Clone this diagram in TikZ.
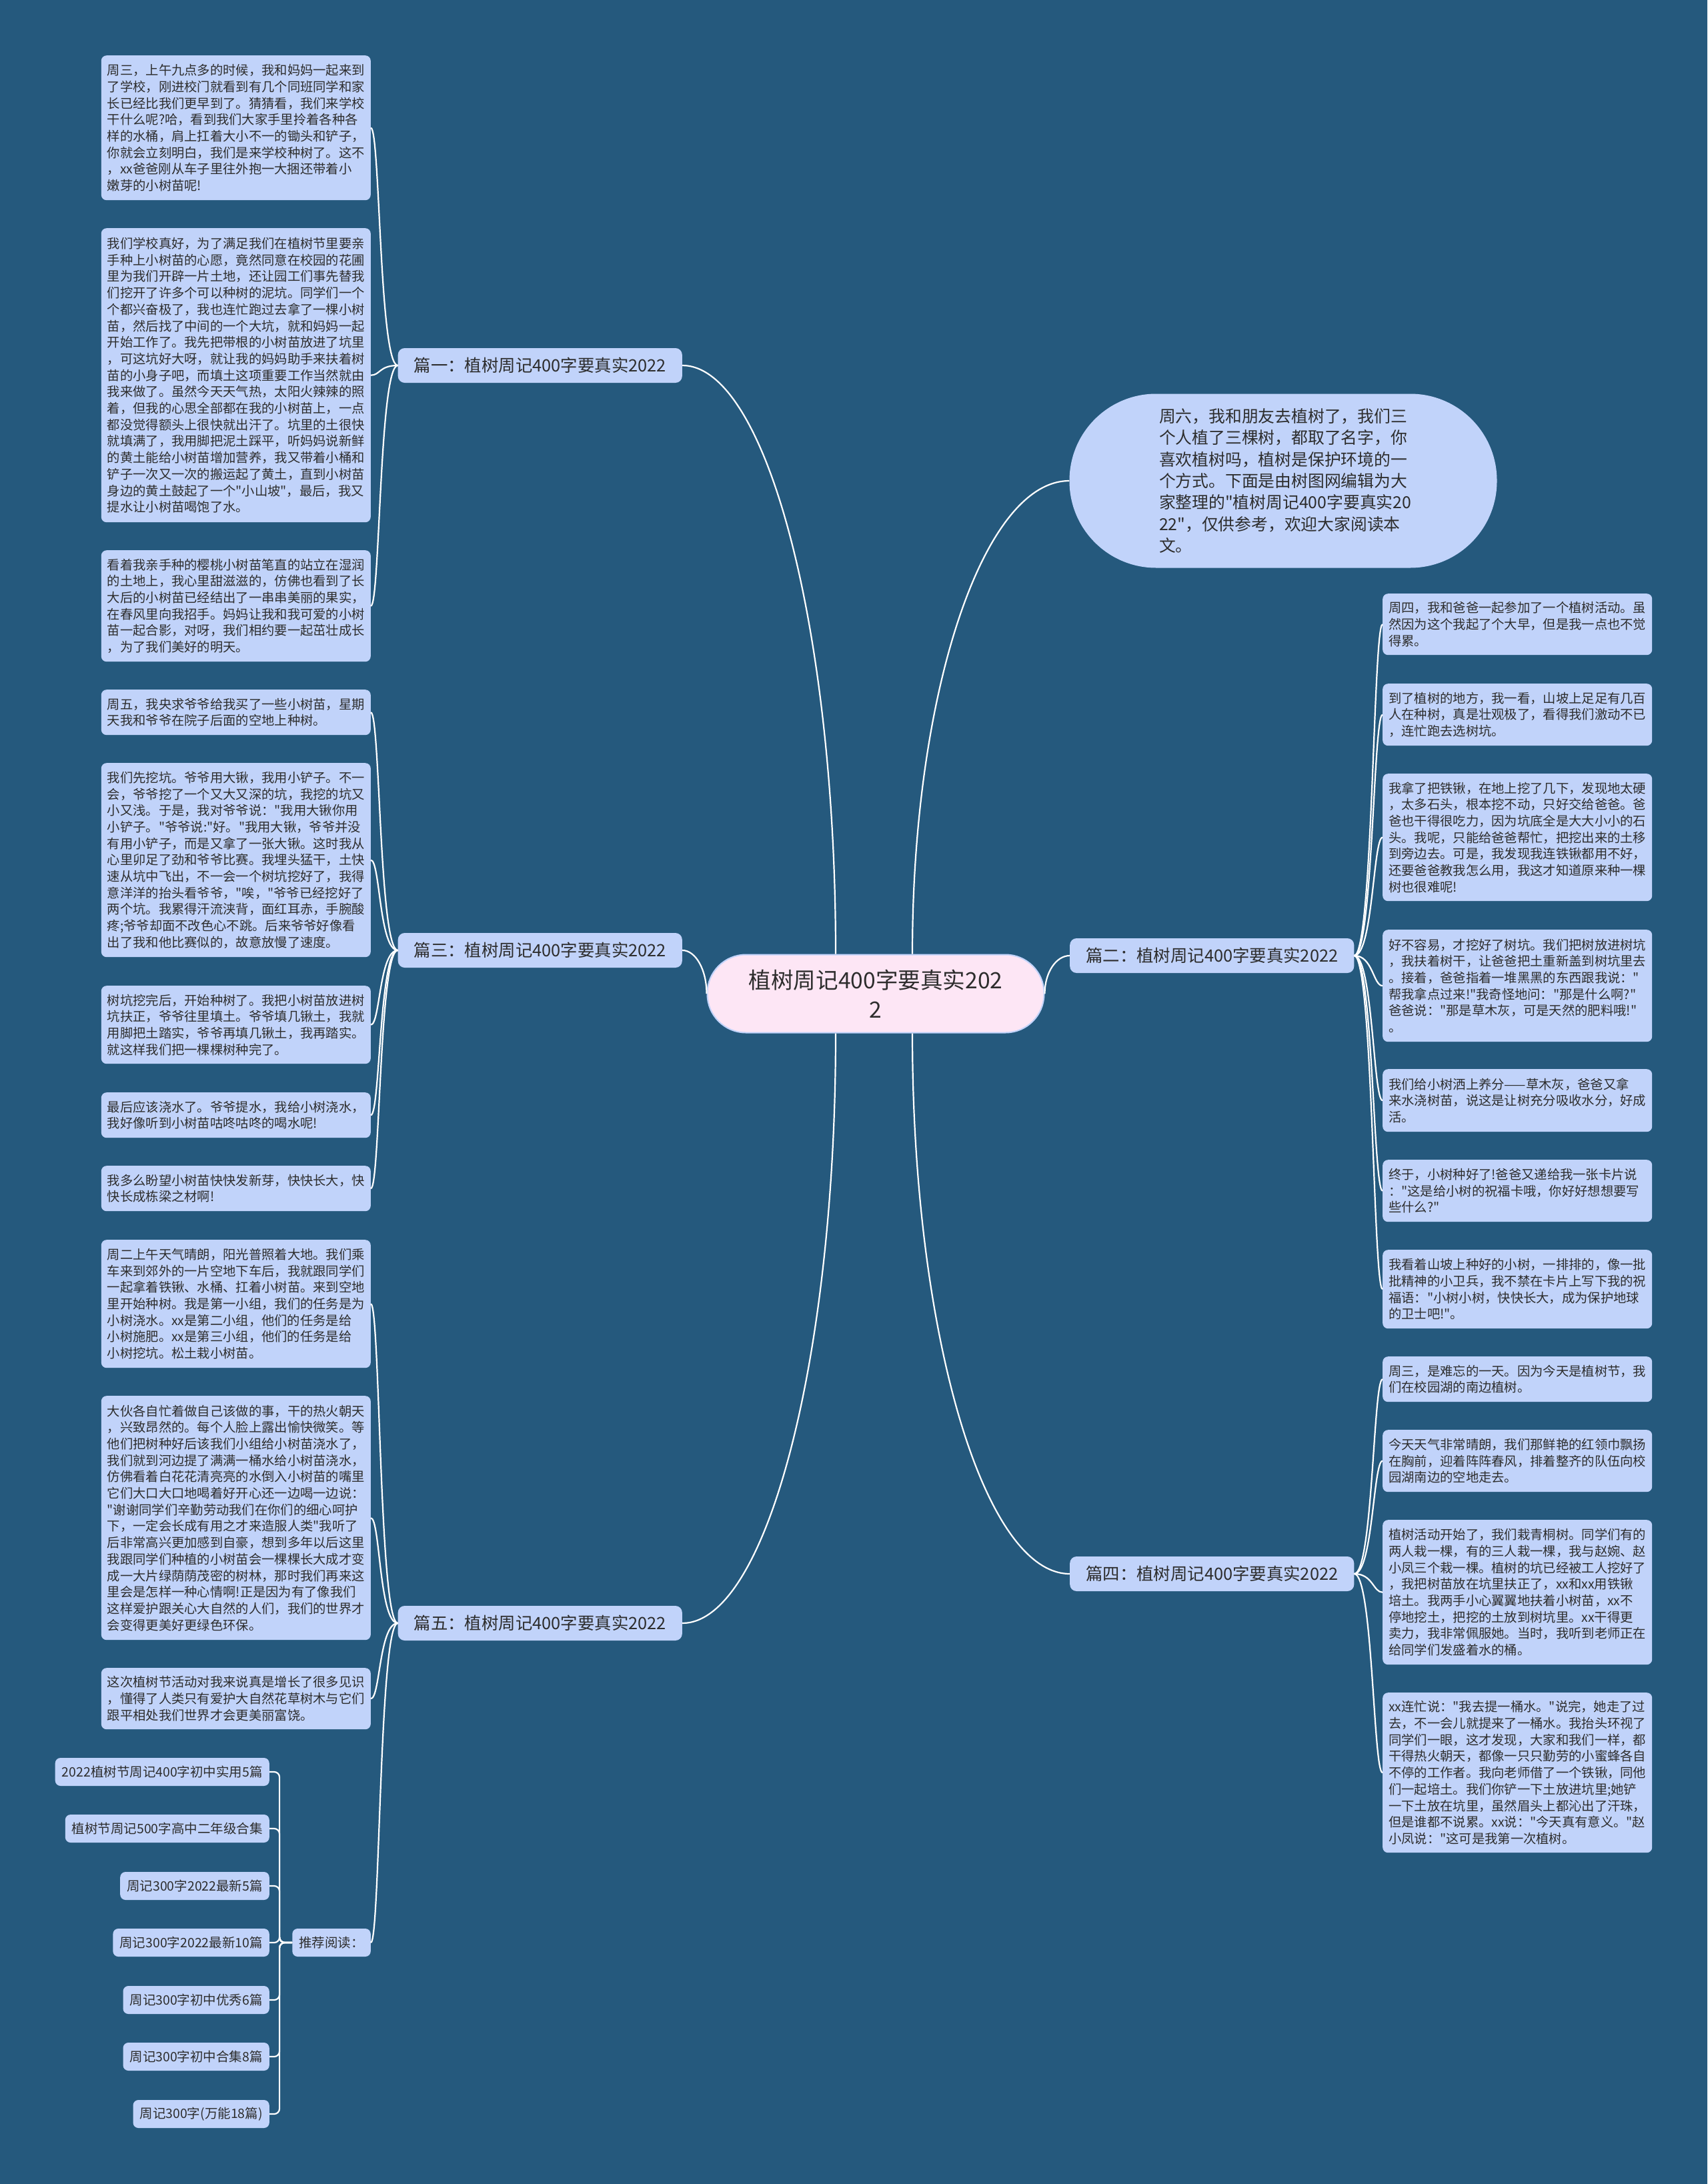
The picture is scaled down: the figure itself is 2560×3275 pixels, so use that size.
\documentclass[tikz,border=0pt]{standalone}
\usepackage{fontspec}
\setmainfont{Noto Sans CJK SC}[Ligatures=TeXOff]
\usetikzlibrary{calc}
\definecolor{mapbg}{RGB}{37,89,125}
\definecolor{leafblue}{RGB}{193,211,250}
\definecolor{rootpink}{RGB}{253,230,245}
\definecolor{inkgray}{RGB}{45,45,45}

\begin{document}
\begin{tikzpicture}[x=1pt, y=-1pt,
  leaf/.style={rectangle, rounded corners=8pt, fill=leafblue, text=inkgray,
               text width=386pt, align=left, inner xsep=9pt, inner ysep=0pt,
               font=\fontsize{19.3}{24.7}\selectfont},
  recbox/.style={rectangle, rounded corners=8pt, fill=leafblue, text=inkgray,
                 inner xsep=10pt, minimum height=42pt,
                 font=\fontsize{19.5}{24}\selectfont},
  branch/.style={rectangle, rounded corners=10pt, fill=leafblue, text=inkgray,
                 inner xsep=24pt, minimum height=52pt,
                 font=\fontsize{25.4}{30}\selectfont},
  wire/.style={white, line width=2.2pt},
  link/.style={to path={.. controls ($(\tikztostart)!0.55!(\tikztostart|-\tikztotarget)$)
                 and ($(\tikztotarget)!0.55!(\tikztostart|-\tikztotarget)$) .. (\tikztotarget)}},
  twigl/.style={to path={.. controls ([xshift=-28pt]\tikztostart)
                 and ([xshift=14pt]\tikztotarget) .. (\tikztotarget)}},
  twigr/.style={to path={.. controls ([xshift=28pt]\tikztostart)
                 and ([xshift=-14pt]\tikztotarget) .. (\tikztotarget)}}
]
\useasboundingbox (0,0) rectangle (2560,3275);
\fill[mapbg] (0,0) rectangle (2560,3275);

% centre
\node[rectangle, rounded corners=58pt, fill=rootpink, draw=leafblue, line width=2pt,
      minimum width=505pt, minimum height=117pt, align=center, text=inkgray,
      font=\fontsize{33.6}{44}\selectfont] (root) at (1313,1490)
  {植树周记400字要真实202\\2};

\node[rectangle, rounded corners=130pt, fill=leafblue, minimum width=641pt,
      minimum height=261pt, text width=372pt, align=left, text=inkgray,
      font=\fontsize{24.8}{32.4}\selectfont] (intro) at (1924,721)
  {周六，我和朋友去植树了，我们三\\个人植了三棵树，都取了名字，你\\喜欢植树吗，植树是保护环境的一\\个方式。下面是由树图网编辑为大\\家整理的"植树周记400字要真实20\\22"，仅供参考，欢迎大家阅读本\\文。};

\node[branch, anchor=east] (b1) at (1023,548) {篇一：植树周记400字要真实2022};
\node[branch, anchor=east] (b3) at (1023,1425) {篇三：植树周记400字要真实2022};
\node[branch, anchor=east] (b5) at (1023,2434) {篇五：植树周记400字要真实2022};
\node[branch, anchor=west] (b2) at (1604,1433) {篇二：植树周记400字要真实2022};
\node[branch, anchor=west] (b4) at (1604,2360) {篇四：植树周记400字要真实2022};

% left leaves
\node[leaf, anchor=north east, minimum height=217pt] (l1) at (556,83)
  {周三，上午九点多的时候，我和妈妈一起来到\\了学校，刚进校门就看到有几个同班同学和家\\长已经比我们更早到了。猜猜看，我们来学校\\干什么呢?哈，看到我们大家手里拎着各种各\\样的水桶，肩上扛着大小不一的锄头和铲子，\\你就会立刻明白，我们是来学校种树了。这不\\，xx爸爸刚从车子里往外抱一大捆还带着小\\嫩芽的小树苗呢!};
\node[leaf, anchor=north east, minimum height=441pt] (l2) at (556,342)
  {我们学校真好，为了满足我们在植树节里要亲\\手种上小树苗的心愿，竟然同意在校园的花圃\\里为我们开辟一片土地，还让园工们事先替我\\们挖开了许多个可以种树的泥坑。同学们一个\\个都兴奋极了，我也连忙跑过去拿了一棵小树\\苗，然后找了中间的一个大坑，就和妈妈一起\\开始工作了。我先把带根的小树苗放进了坑里\\，可这坑好大呀，就让我的妈妈助手来扶着树\\苗的小身子吧，而填土这项重要工作当然就由\\我来做了。虽然今天天气热，太阳火辣辣的照\\着，但我的心思全部都在我的小树苗上，一点\\都没觉得额头上很快就出汗了。坑里的土很快\\就填满了，我用脚把泥土踩平，听妈妈说新鲜\\的黄土能给小树苗增加营养，我又带着小桶和\\铲子一次又一次的搬运起了黄土，直到小树苗\\身边的黄土鼓起了一个"小山坡"，最后，我又\\提水让小树苗喝饱了水。};
\node[leaf, anchor=north east, minimum height=167pt] (l3) at (556,825)
  {看着我亲手种的樱桃小树苗笔直的站立在湿润\\的土地上，我心里甜滋滋的，仿佛也看到了长\\大后的小树苗已经结出了一串串美丽的果实，\\在春风里向我招手。妈妈让我和我可爱的小树\\苗一起合影，对呀，我们相约要一起茁壮成长\\，为了我们美好的明天。};
\node[leaf, anchor=north east, minimum height=68pt] (l4) at (556,1034)
  {周五，我央求爷爷给我买了一些小树苗，星期\\天我和爷爷在院子后面的空地上种树。};
\node[leaf, anchor=north east, minimum height=291pt] (l5) at (556,1144)
  {我们先挖坑。爷爷用大锹，我用小铲子。不一\\会，爷爷挖了一个又大又深的坑，我挖的坑又\\小又浅。于是，我对爷爷说："我用大锹你用\\小铲子。"爷爷说:"好。"我用大锹，爷爷并没\\有用小铲子，而是又拿了一张大锹。这时我从\\心里卯足了劲和爷爷比赛。我埋头猛干，土快\\速从坑中飞出，不一会一个树坑挖好了，我得\\意洋洋的抬头看爷爷，"唉，"爷爷已经挖好了\\两个坑。我累得汗流浃背，面红耳赤，手腕酸\\疼;爷爷却面不改色心不跳。后来爷爷好像看\\出了我和他比赛似的，故意放慢了速度。};
\node[leaf, anchor=north east, minimum height=117pt] (l6) at (556,1478)
  {树坑挖完后，开始种树了。我把小树苗放进树\\坑扶正，爷爷往里填土。爷爷填几锹土，我就\\用脚把土踏实，爷爷再填几锹土，我再踏实。\\就这样我们把一棵棵树种完了。};
\node[leaf, anchor=north east, minimum height=68pt] (l7) at (556,1638)
  {最后应该浇水了。爷爷提水，我给小树浇水，\\我好像听到小树苗咕咚咕咚的喝水呢!};
\node[leaf, anchor=north east, minimum height=68pt] (l8) at (556,1748)
  {我多么盼望小树苗快快发新芽，快快长大，快\\快长成栋梁之材啊!};
\node[leaf, anchor=north east, minimum height=192pt] (l9) at (556,1859)
  {周二上午天气晴朗，阳光普照着大地。我们乘\\车来到郊外的一片空地下车后，我就跟同学们\\一起拿着铁锹、水桶、扛着小树苗。来到空地\\里开始种树。我是第一小组，我们的任务是为\\小树浇水。xx是第二小组，他们的任务是给\\小树施肥。xx是第三小组，他们的任务是给\\小树挖坑。松土栽小树苗。};
\node[leaf, anchor=north east, minimum height=366pt] (l10) at (556,2093)
  {大伙各自忙着做自己该做的事，干的热火朝天\\，兴致昂然的。每个人脸上露出愉快微笑。等\\他们把树种好后该我们小组给小树苗浇水了，\\我们就到河边提了满满一桶水给小树苗浇水，\\仿佛看着白花花清亮亮的水倒入小树苗的嘴里\\它们大口大口地喝着好开心还一边喝一边说：\\"谢谢同学们辛勤劳动我们在你们的细心呵护\\下，一定会长成有用之才来造服人类"我听了\\后非常高兴更加感到自豪，想到多年以后这里\\我跟同学们种植的小树苗会一棵棵长大成才变\\成一大片绿荫荫茂密的树林，那时我们再来这\\里会是怎样一种心情啊!正是因为有了像我们\\这样爱护跟关心大自然的人们，我们的世界才\\会变得更美好更绿色环保。};
\node[leaf, anchor=north east, minimum height=92pt] (l11) at (556,2501)
  {这次植树节活动对我来说真是增长了很多见识\\，懂得了人类只有爱护大自然花草树木与它们\\跟平相处我们世界才会更美丽富饶。};
\node[recbox, anchor=east] (rec) at (556,2913) {推荐阅读：};

% recommended reading
\node[recbox, anchor=east] (k1) at (404,2657) {2022植树节周记400字初中实用5篇};
\node[recbox, anchor=east] (k2) at (404,2742) {植树节周记500字高中二年级合集};
\node[recbox, anchor=east] (k3) at (404,2828) {周记300字2022最新5篇};
\node[recbox, anchor=east] (k4) at (404,2913) {周记300字2022最新10篇};
\node[recbox, anchor=east] (k5) at (404,2999) {周记300字初中优秀6篇};
\node[recbox, anchor=east] (k6) at (404,3084) {周记300字初中合集8篇};
\node[recbox, anchor=east] (k7) at (404,3170) {周记300字(万能18篇)};

% right leaves
\node[leaf, anchor=north west, minimum height=92pt] (r1) at (2073,890)
  {周四，我和爸爸一起参加了一个植树活动。虽\\然因为这个我起了个大早，但是我一点也不觉\\得累。};
\node[leaf, anchor=north west, minimum height=93pt] (r2) at (2073,1025)
  {到了植树的地方，我一看，山坡上足足有几百\\人在种树，真是壮观极了，看得我们激动不已\\，连忙跑去选树坑。};
\node[leaf, anchor=north west, minimum height=191pt] (r3) at (2073,1160)
  {我拿了把铁锹，在地上挖了几下，发现地太硬\\，太多石头，根本挖不动，只好交给爸爸。爸\\爸也干得很吃力，因为坑底全是大大小小的石\\头。我呢，只能给爸爸帮忙，把挖出来的土移\\到旁边去。可是，我发现我连铁锹都用不好，\\还要爸爸教我怎么用，我这才知道原来种一棵\\树也很难呢!};
\node[leaf, anchor=north west, minimum height=168pt] (r4) at (2073,1394)
  {好不容易，才挖好了树坑。我们把树放进树坑\\，我扶着树干，让爸爸把土重新盖到树坑里去\\。接着，爸爸指着一堆黑黑的东西跟我说："\\帮我拿点过来!"我奇怪地问："那是什么啊?"\\爸爸说："那是草木灰，可是天然的肥料哦!"\\。};
\node[leaf, anchor=north west, minimum height=94pt] (r5) at (2073,1603)
  {我们给小树洒上养分——草木灰，爸爸又拿\\来水浇树苗，说这是让树充分吸收水分，好成\\活。};
\node[leaf, anchor=north west, minimum height=93pt] (r6) at (2073,1739)
  {终于，小树种好了!爸爸又递给我一张卡片说\\："这是给小树的祝福卡哦，你好好想想要写\\些什么?"};
\node[leaf, anchor=north west, minimum height=118pt] (r7) at (2073,1874)
  {我看着山坡上种好的小树，一排排的，像一批\\批精神的小卫兵，我不禁在卡片上写下我的祝\\福语："小树小树，快快长大，成为保护地球\\的卫士吧!"。};
\node[leaf, anchor=north west, minimum height=68pt] (r8) at (2073,2034)
  {周三，是难忘的一天。因为今天是植树节，我\\们在校园湖的南边植树。};
\node[leaf, anchor=north west, minimum height=93pt] (r9) at (2073,2144)
  {今天天气非常晴朗，我们那鲜艳的红领巾飘扬\\在胸前，迎着阵阵春风，排着整齐的队伍向校\\园湖南边的空地走去。};
\node[leaf, anchor=north west, minimum height=217pt] (r10) at (2073,2279)
  {植树活动开始了，我们栽青桐树。同学们有的\\两人栽一棵，有的三人栽一棵，我与赵婉、赵\\小凤三个栽一棵。植树的坑已经被工人挖好了\\，我把树苗放在坑里扶正了，xx和xx用铁锹\\培土。我两手小心翼翼地扶着小树苗，xx不\\停地挖土，把挖的土放到树坑里。xx干得更\\卖力，我非常佩服她。当时，我听到老师正在\\给同学们发盛着水的桶。};
\node[leaf, anchor=north west, minimum height=240pt] (r11) at (2073,2538)
  {xx连忙说："我去提一桶水。"说完，她走了过\\去，不一会儿就提来了一桶水。我抬头环视了\\同学们一眼，这才发现，大家和我们一样，都\\干得热火朝天，都像一只只勤劳的小蜜蜂各自\\不停的工作者。我向老师借了一个铁锹，同他\\们一起培土。我们你铲一下土放进坑里;她铲\\一下土放在坑里，虽然眉头上都沁出了汗珠，\\但是谁都不说累。xx说："今天真有意义。"赵\\小凤说："这可是我第一次植树。};

% connectors
\coordinate (rtl) at ([xshift=-60pt]root.north);
\coordinate (rtr) at ([xshift=55pt]root.north);
\coordinate (rbl) at ([xshift=-60pt]root.south);
\coordinate (rbr) at ([xshift=55pt]root.south);
\draw[wire] (rtl) to[link] (b1.east);
\draw[wire] (root.west) to[link] (b3.east);
\draw[wire] (rbl) to[link] (b5.east);
\draw[wire] (rtr) to[link] (intro.west);
\draw[wire] (root.east) to[link] (b2.west);
\draw[wire] (rbr) to[link] (b4.west);

\foreach \n in {l1,l2,l3} \draw[wire] (b1.west) to[twigl] (\n.east);
\foreach \n in {l4,l5,l6,l7,l8} \draw[wire] (b3.west) to[twigl] (\n.east);
\foreach \n in {l9,l10,l11,rec} \draw[wire] (b5.west) to[twigl] (\n.east);
\foreach \n in {r1,r2,r3,r4,r5,r6,r7} \draw[wire] (b2.east) to[twigr] (\n.west);
\foreach \n in {r8,r9,r10,r11} \draw[wire] (b4.east) to[twigr] (\n.west);
\foreach \n in {k1,k2,k3,k4,k5,k6,k7}
  \draw[wire, rounded corners=8pt] (rec.west) -- ++(-19,0) |- (\n.east);
\end{tikzpicture}
\end{document}
